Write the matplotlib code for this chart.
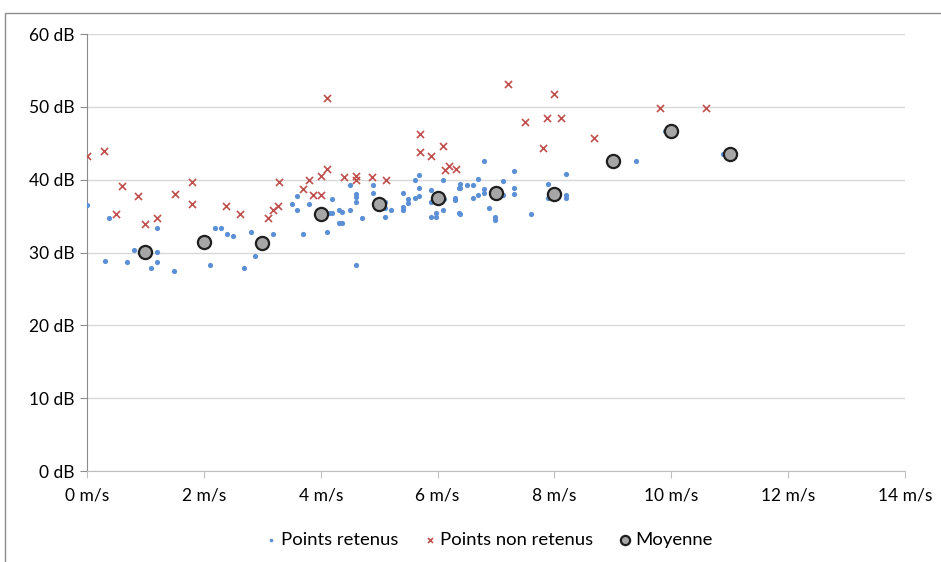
import matplotlib.pyplot as plt
from matplotlib.patches import Rectangle
from matplotlib.ticker import FuncFormatter, MultipleLocator

plt.rcParams['font.family'] = ['Lato', 'DejaVu Sans']

# points retenus (vitesse m/s, niveau dB)
retenus_x = [0.0, 0.38, 0.30, 0.69, 0.81, 1.20, 1.20, 1.20, 1.10, 1.49,
             2.10, 2.19, 2.29, 2.39, 2.49, 2.68, 2.80, 2.88, 3.19,
             3.50, 3.60, 3.60, 3.70, 3.80, 4.11, 4.14, 4.19, 4.19, 4.31,
             4.37, 4.31, 4.37, 4.50, 4.50, 4.60, 4.60, 4.60, 4.60, 4.70,
             4.89, 4.89, 5.10, 5.10, 5.10, 5.21, 5.40, 5.40, 5.40, 5.50,
             5.50, 5.61, 5.62, 5.69, 5.69, 5.69, 5.88, 5.88, 5.88, 5.98,
             5.98, 6.10, 6.10, 6.10, 6.11, 6.29, 6.30, 6.36, 6.37, 6.39,
             6.39, 6.39, 6.50, 6.61, 6.61, 6.69, 6.69, 6.80, 6.80, 6.80,
             6.88, 6.99, 6.99, 7.12, 7.12, 7.31, 7.31, 7.31, 7.60, 7.89,
             7.89, 8.19, 8.19, 8.19, 9.40, 9.89, 10.88]
retenus_y = [36.5, 34.75, 28.9, 28.7, 30.3, 33.4, 30.1, 28.7, 27.9, 27.5,
             28.3, 33.4, 33.4, 32.6, 32.2, 27.9, 32.8, 29.5, 32.6,
             36.7, 37.8, 35.9, 32.6, 36.7, 32.8, 35.4, 35.4, 37.3, 35.9,
             35.5, 34.0, 34.0, 39.2, 35.9, 38.0, 37.6, 36.9, 28.3, 34.8,
             39.2, 38.2, 36.9, 36.1, 34.9, 35.9, 38.2, 36.3, 35.9, 37.3,
             36.8, 40.0, 37.5, 40.6, 38.8, 37.8, 38.6, 36.9, 34.9, 35.4,
             34.9, 40.0, 37.5, 35.9, 37.3, 37.5, 37.2, 38.8, 35.4, 39.4,
             38.8, 35.3, 39.3, 39.2, 37.5, 40.1, 37.9, 42.5, 38.7, 38.2,
             36.1, 34.9, 34.5, 39.8, 37.9, 41.2, 38.8, 38.0, 35.3, 39.4,
             37.5, 40.8, 37.9, 37.5, 42.5, 46.7, 43.5]

# points non retenus
non_retenus_x = [0.0, 0.29, 0.60, 0.88, 0.49, 0.99, 1.19, 1.51, 1.80, 1.80,
                 2.37, 2.62, 3.10, 3.19, 3.27, 3.28, 3.69, 3.80, 3.87, 4.00,
                 4.00, 4.10, 4.10, 4.39, 4.60, 4.60, 4.87, 5.12, 5.70, 5.70,
                 5.89, 6.10, 6.12, 6.19, 6.32, 7.21, 7.50, 7.81, 7.88, 8.00,
                 8.11, 8.68, 9.80, 10.59]
non_retenus_y = [43.2, 43.9, 39.1, 37.8, 35.3, 33.9, 34.7, 38.0, 39.7, 36.6,
                 36.4, 35.3, 34.8, 35.8, 36.4, 39.7, 38.7, 40.0, 37.9, 37.9,
                 40.5, 41.5, 51.2, 40.4, 40.5, 40.0, 40.4, 40.0, 46.3, 43.8,
                 43.2, 44.6, 41.3, 41.9, 41.4, 53.2, 47.9, 44.4, 48.5, 51.8,
                 48.5, 45.7, 49.8, 49.8]

# moyenne par classe de vitesse
moyenne_x = [1, 2, 3, 4, 5, 6, 7, 8, 9, 10, 11]
moyenne_y = [30.1, 31.4, 31.3, 35.3, 36.7, 37.5, 38.2, 38.0, 42.5, 46.7, 43.5]

fig = plt.figure(figsize=(9.41, 5.62), dpi=100)
ax = fig.add_axes([0.0925, 0.1619, 0.8692, 0.7776])

ax.scatter(retenus_x, retenus_y, s=14, color='#5b8fd6', linewidths=0,
           label='Points retenus', zorder=3)
ax.scatter(non_retenus_x, non_retenus_y, s=26, marker='x', color='#c0504d',
           linewidths=1.2, label='Points non retenus', zorder=3)
ax.scatter(moyenne_x, moyenne_y, s=90, color='#a6a6a6', edgecolors='#1f1f1f',
           linewidths=1.6, label='Moyenne', zorder=4)

ax.set_xlim(0, 14)
ax.set_ylim(0, 60)
ax.xaxis.set_major_locator(MultipleLocator(2))
ax.yaxis.set_major_locator(MultipleLocator(10))
ax.xaxis.set_major_formatter(FuncFormatter(lambda v, p: '%d m/s' % v))
ax.yaxis.set_major_formatter(FuncFormatter(lambda v, p: '%d dB' % v))

ax.grid(axis='y', color='#d9d9d9', linewidth=1)
ax.set_axisbelow(True)
for side in ['top', 'right']:
    ax.spines[side].set_visible(False)
ax.spines['left'].set_color('#8c8c8c')
ax.spines['bottom'].set_color('#bfbfbf')
ax.tick_params(axis='x', direction='out', length=5, color='#bfbfbf',
               labelsize=12.5, labelcolor='#000000', pad=7)
ax.tick_params(axis='y', direction='out', length=5, color='#8c8c8c',
               labelsize=12.5, labelcolor='#000000', pad=4)

ax.legend(loc='center', bbox_to_anchor=(0.489, -0.158), ncol=3, frameon=False,
          fontsize=13.3, handletextpad=0.05, columnspacing=1.2,
          markerscale=0.7, handlelength=1.0)

# cadre du graphique
fig.add_artist(Rectangle((5 / 941, -0.1), 1.2, 1.1 - 13 / 562,
                         transform=fig.transFigure, fill=False,
                         edgecolor='#8c8c8c', linewidth=1))

fig.savefig('out.png', dpi=100)
